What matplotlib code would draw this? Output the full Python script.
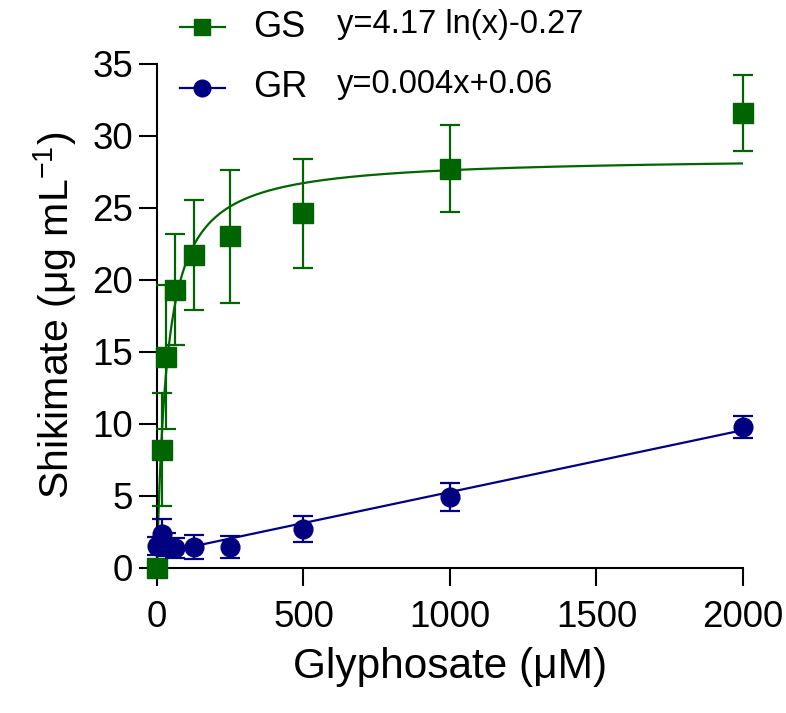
import numpy as np
import matplotlib.pyplot as plt
from matplotlib.lines import Line2D

plt.rcParams['font.family'] = ['Liberation Sans', 'DejaVu Sans']
plt.rcParams['mathtext.default'] = 'regular'

# data
glyphosate = [0, 15.6, 31.25, 62.5, 125, 250, 500, 1000, 2000]
gs_mean = [0, 8.2, 14.65, 19.3, 21.7, 23.0, 24.6, 27.7, 31.55]
gs_err = [0, 3.95, 5.0, 3.85, 3.8, 4.6, 3.8, 3.0, 2.65]
gr_mean = [1.5, 2.35, 1.6, 1.35, 1.45, 1.45, 2.7, 4.9, 9.75]
gr_err = [0.6, 1.0, 0.8, 0.7, 0.85, 0.75, 0.9, 0.95, 0.75]

# fitted curves (as drawn in the figure)
gs_vmax, gs_km = 28.55, 34.6
gr_slope, gr_icpt = 0.0043, 0.95

green = '#006400'
navy = '#000080'

fig = plt.figure(figsize=(7.86, 7.13), dpi=100)
ax = fig.add_axes([0.1997, 0.2038, 0.7455, 0.7071])

xfit = np.linspace(0, 2000, 2001)
ax.plot(xfit, gs_vmax * xfit / (gs_km + xfit), color=green, lw=1.6, zorder=2)
ax.plot(xfit, gr_slope * xfit + gr_icpt, color=navy, lw=1.6, zorder=2)

ax.errorbar(glyphosate, gs_mean, yerr=gs_err, fmt='s', color=green, ms=14,
            capsize=7, elinewidth=1.6, capthick=1.6, clip_on=False, zorder=3)
ax.errorbar(glyphosate, gr_mean, yerr=gr_err, fmt='o', color=navy, ms=13.5,
            capsize=7, elinewidth=1.6, capthick=1.6, clip_on=False, zorder=4)

ax.set_xlim(0, 2000)
ax.set_ylim(0, 35)
ax.set_xticks([0, 500, 1000, 1500, 2000])
ax.set_yticks(range(0, 36, 5))
for s in ['top', 'right']:
    ax.spines[s].set_visible(False)
for s in ['left', 'bottom']:
    ax.spines[s].set_linewidth(1.5)
ax.tick_params(length=13, width=1.5, labelsize=26.5)
ax.tick_params(axis='x', pad=10)
ax.tick_params(axis='y', pad=4)

ax.set_xlabel('Glyphosate (μM)', fontsize=30.5, labelpad=9)
ax.set_ylabel('Shikimate (μg mL$^{-1}$)', fontsize=29.5, labelpad=10)

# legend drawn by hand at the top
rows = [(0.962, green, 's', 'GS', 'y=4.17 ln(x)-0.27'),
        (0.877, navy, 'o', 'GR', 'y=0.004x+0.06')]
for y, c, m, name, eq in rows:
    fig.add_artist(Line2D([0.229, 0.286], [y, y], color=c, lw=1.6))
    fig.add_artist(Line2D([0.2575], [y], color=c, marker=m, ms=12, lw=0))
    fig.text(0.322, y, name, fontsize=26, va='center', ha='left')
    fig.text(0.429, y + 0.004, eq, fontsize=23.5, va='center', ha='left')

fig.savefig('out.png', dpi=100)
